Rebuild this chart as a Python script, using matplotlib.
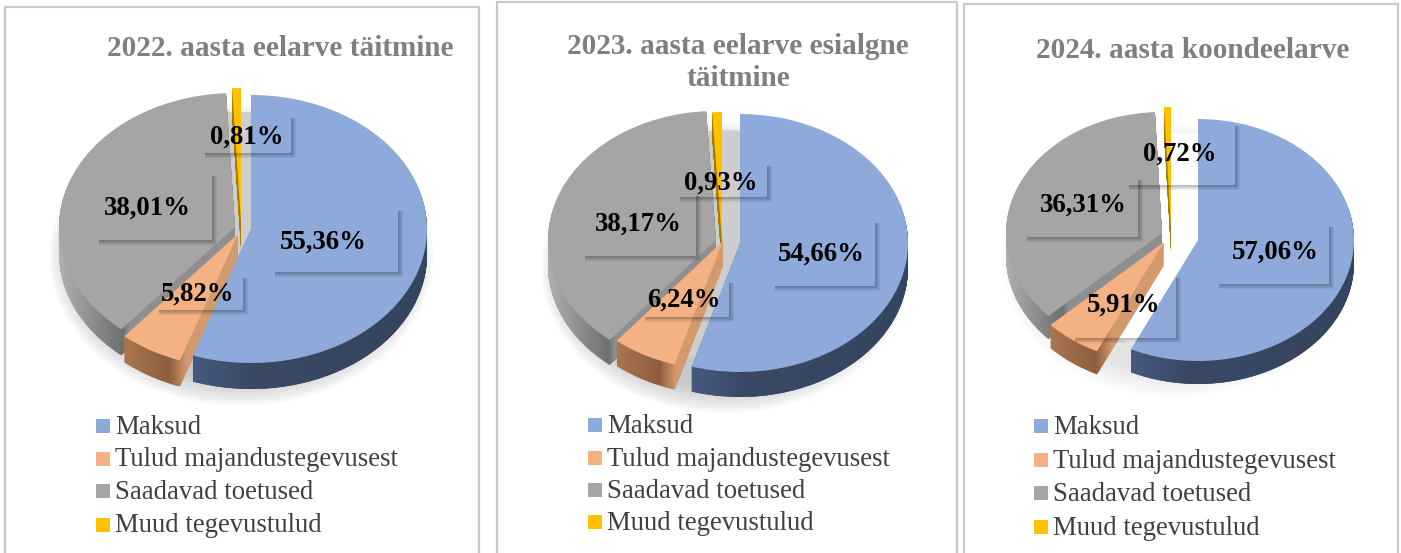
import numpy as np
import matplotlib
matplotlib.use("Agg")
import matplotlib.pyplot as plt
from matplotlib.patches import Rectangle, Ellipse
from matplotlib.path import Path
from matplotlib.colors import LinearSegmentedColormap

W, H = 1401, 553
categories = ["Maksud", "Tulud majandustegevusest", "Saadavad toetused", "Muud tegevustulud"]
titles = ["2022. aasta eelarve täitmine", "2023. aasta eelarve esialgne\ntäitmine", "2024. aasta koondeelarve"]
values_2022 = [55.36, 5.82, 38.01, 0.81]
values_2023 = [54.66, 6.24, 38.17, 0.93]
values_2024 = [57.06, 5.91, 36.31, 0.72]
labels_2022 = ["55,36%", "5,82%", "38,01%", "0,81%"]
labels_2023 = ["54,66%", "6,24%", "38,17%", "0,93%"]
labels_2024 = ["57,06%", "5,91%", "36,31%", "0,72%"]

top_colors = ["#8eaadb", "#f4b183", "#a5a5a5", "#ffc000"]
side_colors = ["#3b4a66", "#a9714c", "#868686", "#a67c00"]
side_stops = [
    [(0, "#465a7e"), (0.25, "#3a4864"), (1, "#34455f")],
    [(0, "#a9764f"), (0.4, "#8d5e3e"), (0.55, "#d49a6d"), (1, "#d49a6d")],
    [(0, "#b0b0b0"), (0.36, "#6f6f6f"), (0.4, "#8f8f8f"), (1, "#8f8f8f")],
    [(0, "#a67c00"), (1, "#a67c00")],
]

panels = [
    dict(values=values_2022, labels=labels_2022, title=titles[0], frame=(5, 7, 479),
         rx=176, ry=134, depth=26, backdrop=True, glow=0.035,
         apex=[(251, 229), (238, 234), (235, 227), (241, 222)],
         boxes=[(273, 208, 398, 272), (157, 275, 243, 310), (97, 173, 212, 240), (203, 115, 291, 153)],
         text_xy=[(323, 240), (197, 292), (147, 206), (246, 135)],
         title_xy=(280, 49), leg_x=96, leg_y=[426, 458.5, 491, 524.5]),
    dict(values=values_2023, labels=labels_2023, title=titles[1], frame=(497, 2, 957),
         rx=168, ry=129, depth=25, backdrop=True, glow=0.035,
         apex=[(740, 243), (723, 241), (716, 240), (722, 241)],
         boxes=[(773, 220, 875, 286), (643, 280, 729, 317), (583, 193, 696, 256), (678, 163, 767, 197)],
         text_xy=[(821, 252), (683, 298), (638, 222), (720, 181)],
         title_xy=(738, 62.5), leg_x=588, leg_y=[425, 458, 490, 522]),
    dict(values=values_2024, labels=labels_2024, title=titles[2], frame=(964, 4, 1398),
         rx=156, ry=121, depth=23, backdrop=False, glow=0.015,
         apex=[(1198, 240), (1164, 242), (1162, 233), (1171, 228)],
         boxes=[(1217, 224, 1329, 284), (1073, 275, 1176, 338), (1025, 177, 1138, 237), (1127, 123, 1235, 185)],
         text_xy=[(1275, 250), (1123, 303), (1083, 203), (1179, 152)],
         title_xy=(1193, 50), leg_x=1034, leg_y=[426, 460, 493, 527]),
]

fig = plt.figure(figsize=(W / 100, H / 100), dpi=100, facecolor="white")
bg = fig.add_axes([0, 0, 1, 1], zorder=0)
bg.set_xlim(0, W); bg.set_ylim(H, 0); bg.axis("off")
fg = fig.add_axes([0, 0, 1, 1], zorder=5)
fg.set_xlim(0, W); fg.set_ylim(H, 0); fg.axis("off"); fg.patch.set_alpha(0)
serif = "Liberation Serif"

for p in panels:
    x0, y0, x1 = p["frame"]
    bg.plot([x0, x0, x1, x1], [H + 5, y0, y0, H + 5], color="#c9c9c9", lw=1.6, solid_joinstyle="miter")
    rx, ry, depth = p["rx"], p["ry"], p["depth"]
    cx = np.mean([a[0] for a in p["apex"]]); cy = np.mean([a[1] for a in p["apex"]])
    for k in range(14):
        bg.add_patch(Ellipse((cx, cy + depth + 2), 2 * (rx + 16 - k * 2), 2 * (ry + 16 - k * 2),
                             fc="#808080", ec="none", alpha=p["glow"]))
    backdrop = "#cdcdcd" if p["backdrop"] else "white"
    bg.add_patch(Ellipse((cx, cy + 4), 2 * rx, 2 * (ry - 14), fc=backdrop, ec="none"))

    ax = fig.add_axes([(cx - 1.5 * rx) / W, 1 - (cy + 1.5 * ry) / H, 3 * rx / W, 3 * ry / H], zorder=2)
    ax.patch.set_alpha(0)
    z = 1
    for idx in [3, 2, 1, 0]:
        ox, oy = p["apex"][idx]
        wall_paths = []
        for d in list(range(depth, 0, -1)) + [0]:
            wedges, _ = ax.pie(p["values"], startangle=90, counterclock=False, radius=1,
                               colors=[top_colors[idx] if d == 0 else side_colors[idx]] * 4,
                               wedgeprops=dict(lw=0))
            for j, w in enumerate(wedges):
                if j == idx:
                    w.set_center(((ox - cx) / rx, -(oy + d - cy) / ry))
                    z += 1
                    w.set_zorder(z)
                    if d > 0:
                        wall_paths.append(w.get_path())
                else:
                    w.remove()
            if d == 1:
                comp = Path.make_compound_path(*wall_paths)
                e = comp.get_extents()
                cmap = LinearSegmentedColormap.from_list("wall", side_stops[idx])
                im = ax.imshow(np.linspace(0, 1, 256).reshape(1, -1), cmap=cmap, aspect="auto",
                               extent=(e.x0, e.x1, e.y0, e.y1), zorder=z + 0.5, vmin=0, vmax=1)
                im.set_clip_path(comp, ax.transData)
                z += 1
    ax.set_aspect("auto")
    ax.set_xlim(-1.5, 1.5); ax.set_ylim(-1.5, 1.5)
    ax.axis("off")

    for (bx0, by0, bx1, by1), lab, (tx, ty) in zip(p["boxes"], p["labels"], p["text_xy"]):
        for k in range(1, 6):
            a = 0.06
            fg.add_patch(Rectangle((bx0 + 2, by1), bx1 - bx0 + k - 2, k, fc="black", ec="none", alpha=a))
            fg.add_patch(Rectangle((bx1, by0 + 3), k, by1 - by0 - 3, fc="black", ec="none", alpha=a))
        fg.text(tx + 0.5, ty + 2.5, lab, family=serif, weight="bold", size=19.3,
                color="black", ha="center", va="center")
    fg.text(*p["title_xy"], p["title"], family=serif, weight="bold", size=21.1, color="#7f7f7f",
            ha="center", va="center", linespacing=1.26)
    for c, name, ly in zip(top_colors, categories, p["leg_y"]):
        fg.add_patch(Rectangle((p["leg_x"], ly - 7), 14, 14, fc=c, ec="none"))
        fg.text(p["leg_x"] + 19, ly + 1.5, name, family=serif, size=19.25, color="#404040", ha="left", va="center")

fig.savefig("out.png", dpi=100)
